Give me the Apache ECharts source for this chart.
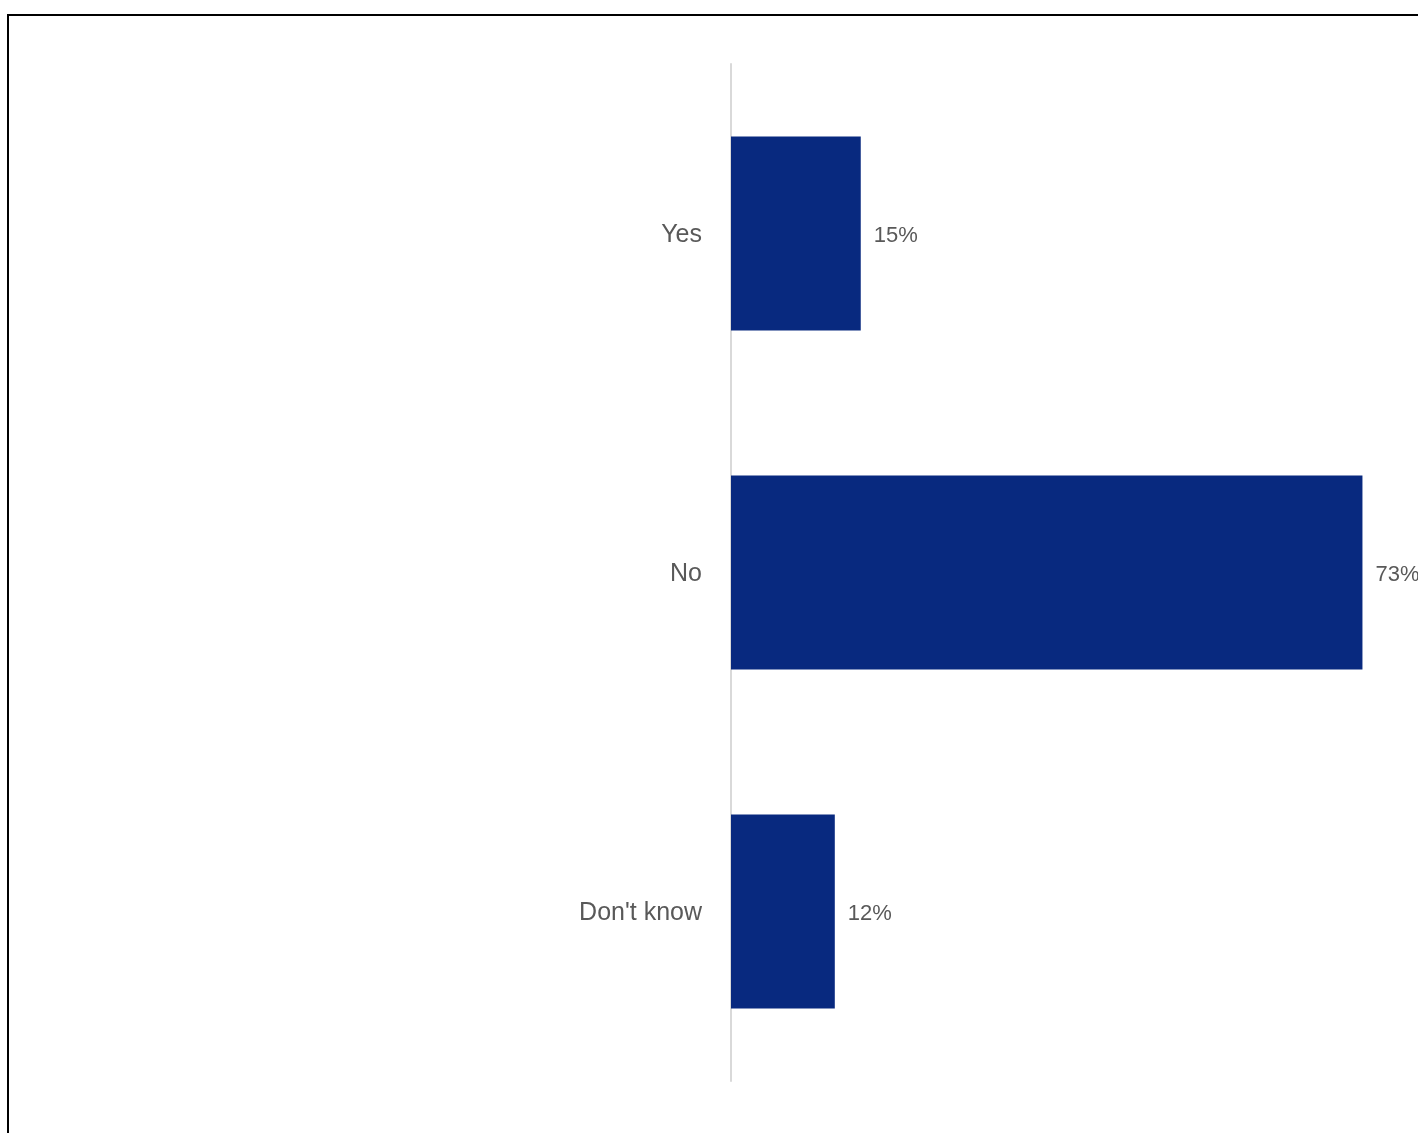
<!DOCTYPE html>
<html>
<head>
<meta charset="utf-8">
<style>
  html, body { margin: 0; padding: 0; background: #ffffff; }
  #chart { width: 1418px; height: 1133px; }
</style>
<script src="https://cdn.jsdelivr.net/npm/echarts@6/dist/echarts.min.js"></script>
</head>
<body>
<div id="chart"></div>
<script>
// Survey answers and their shares (%)
const categories = ['Yes', 'No', "Don't know"];
const shares = [15, 73, 12];

const chart = echarts.init(document.getElementById('chart'), null, { renderer: 'canvas' });

chart.setOption({
  animation: false,
  backgroundColor: '#ffffff',
  graphic: [
    {
      // outer frame (top and left edges visible)
      type: 'rect',
      shape: { x: 8, y: 15, width: 1500, height: 1200 },
      style: { fill: 'none', stroke: '#000000', lineWidth: 2 },
      silent: true
    }
  ],
  grid: {
    left: 731,
    top: 64,
    width: 692,
    height: 1017,
    containLabel: false,
    outerBoundsMode: 'none'
  },
  xAxis: {
    type: 'value',
    min: 0,
    max: 80,
    show: false,
    splitLine: { show: false }
  },
  yAxis: {
    type: 'category',
    data: categories,
    inverse: true,
    axisLine: { show: true, lineStyle: { color: '#d9d9d9', width: 2 } },
    axisTick: { show: false },
    axisLabel: {
      margin: 29,
      formatter: v => '{c|' + v + '}',
      rich: {
        c: {
          color: '#595959',
          fontFamily: 'Liberation Sans, Arial, sans-serif',
          fontSize: 25,
          padding: [4, 0, 0, 0]
        }
      }
    }
  },
  series: [
    {
      type: 'bar',
      data: shares,
      barWidth: 194,
      itemStyle: { color: '#08297f' },
      label: {
        show: true,
        position: 'right',
        distance: 13,
        offset: [0, 2],
        formatter: p => p.value + '%',
        color: '#595959',
        fontFamily: 'Liberation Sans, Arial, sans-serif',
        fontSize: 22
      }
    }
  ]
});
</script>
</body>
</html>
